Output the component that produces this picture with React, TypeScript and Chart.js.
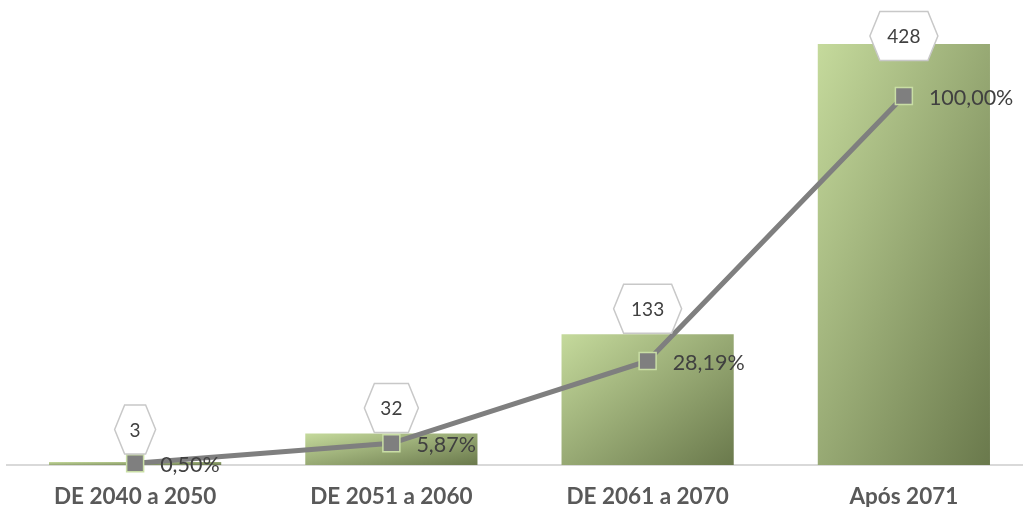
import React, { useEffect, useRef } from 'react';
import { Chart, registerables } from 'chart.js';

Chart.register(...registerables);

const categories = ['DE 2040 a 2050', 'DE 2051 a 2060', 'DE 2061 a 2070', 'Após 2071'];
const counts = [3, 32, 133, 428];
const cumulativePct = [0.5, 5.87, 28.19, 100];
const countLabels = ['3', '32', '133', '428'];
const pctLabels = ['0,50%', '5,87%', '28,19%', '100,00%'];

const BAR_MAX = 472.7;
const PCT_MAX = 126;
const CAT_PCT = 0.672;
const FONT = 'Lato, "Open Sans", sans-serif';

function barGradient(c: any) {
  const chart = c.chart;
  const { chartArea, scales } = chart;
  if (!chartArea || !scales || !scales.x || !scales.y || c.dataIndex == null) return '#a6bb78';
  const cx = scales.x.getPixelForValue(c.dataIndex);
  const w = (scales.x.width / categories.length) * CAT_PCT;
  const top = scales.y.getPixelForValue(counts[c.dataIndex]);
  const base = scales.y.getPixelForValue(0);
  const h = Math.max(base - top, 1);
  const x0 = cx - w / 2;
  const y0 = top;
  const k = (2 * w * h) / (w * w + h * h);
  const g = chart.ctx.createLinearGradient(x0, y0, x0 + h * k, y0 + w * k);
  g.addColorStop(0, '#c5da9c');
  g.addColorStop(1, '#6a794c');
  return g;
}

const labelPlugin = {
  id: 'customLabels',
  afterDatasetsDraw(chart: any) {
    const ctx = chart.ctx;
    const bars = chart.getDatasetMeta(0).data;
    const pts = chart.getDatasetMeta(1).data;
    ctx.save();
    ctx.font = `21.5px ${FONT}`;
    ctx.fillStyle = '#404040';
    ctx.textAlign = 'left';
    ctx.textBaseline = 'middle';
    pts.forEach((p: any, i: number) => ctx.fillText(pctLabels[i], p.x + 25, p.y + 2));

    ctx.font = `19px ${FONT}`;
    bars.forEach((b: any, i: number) => {
      const t = countLabels[i];
      const tw = ctx.measureText(t).width;
      const w = Math.round(tw * 1.2 + 28);
      const h = 49;
      const gap = t.length === 1 ? 8 : 1;
      const cy = Math.max(b.y - gap - h / 2, chart.chartArea.top + 36);
      const cx = b.x;
      const inset = 10;
      ctx.beginPath();
      ctx.moveTo(cx - w / 2, cy);
      ctx.lineTo(cx - w / 2 + inset, cy - h / 2);
      ctx.lineTo(cx + w / 2 - inset, cy - h / 2);
      ctx.lineTo(cx + w / 2, cy);
      ctx.lineTo(cx + w / 2 - inset, cy + h / 2);
      ctx.lineTo(cx - w / 2 + inset, cy + h / 2);
      ctx.closePath();
      ctx.fillStyle = '#ffffff';
      ctx.fill();
      ctx.strokeStyle = '#c8c8c8';
      ctx.lineWidth = 1.5;
      ctx.stroke();
      ctx.fillStyle = '#404040';
      ctx.textAlign = 'center';
      ctx.textBaseline = 'middle';
      ctx.fillText(t, cx, cy + 1);
    });
    ctx.restore();
  },
};

export default function App() {
  const ref = useRef<HTMLCanvasElement>(null);
  useEffect(() => {
    const chart = new Chart(ref.current as HTMLCanvasElement, {
      data: {
        labels: categories,
        datasets: [
          {
            type: 'bar',
            data: counts,
            yAxisID: 'y',
            backgroundColor: barGradient as any,
            borderWidth: 0,
            categoryPercentage: CAT_PCT,
            barPercentage: 1,
            order: 2,
          },
          {
            type: 'line',
            data: cumulativePct,
            yAxisID: 'y1',
            borderColor: '#7f7f7f',
            borderWidth: 5,
            pointStyle: 'rect',
            pointRadius: 12,
            pointBackgroundColor: '#7f7f7f',
            pointBorderColor: '#c9dea5',
            pointBorderWidth: 1.5,
            tension: 0,
            fill: false,
            clip: false as any,
            order: 1,
          },
        ] as any,
      },
      options: {
        responsive: false,
        devicePixelRatio: 1,
        animation: false,
        layout: { autoPadding: false, padding: { left: 7, right: 8, top: 0, bottom: 0 } },
        plugins: { legend: { display: false }, tooltip: { enabled: false } },
        scales: {
          x: {
            grid: { display: false, drawTicks: false },
            border: { display: true, color: '#d9d9d9', width: 2 },
            ticks: {
              font: { family: FONT, size: 22.5, weight: 'bold' },
              color: '#595959',
              padding: 18,
              maxRotation: 0,
              autoSkip: false,
            },
            afterFit: (s: any) => {
              s.height = 42;
            },
          },
          y: { display: false, min: 0, max: BAR_MAX },
          y1: { display: false, min: 0, max: PCT_MAX, position: 'right' },
        },
      } as any,
      plugins: [labelPlugin],
    });
    return () => chart.destroy();
  }, []);
  return (
    <div
      style={{
        position: 'fixed',
        left: 0,
        top: 0,
        width: 1023,
        height: 507,
        overflow: 'hidden',
        background: '#ffffff',
      }}
    >
      <canvas ref={ref} width={1040} height={507} style={{ display: 'block', width: 1040, height: 507 }} />
    </div>
  );
}
